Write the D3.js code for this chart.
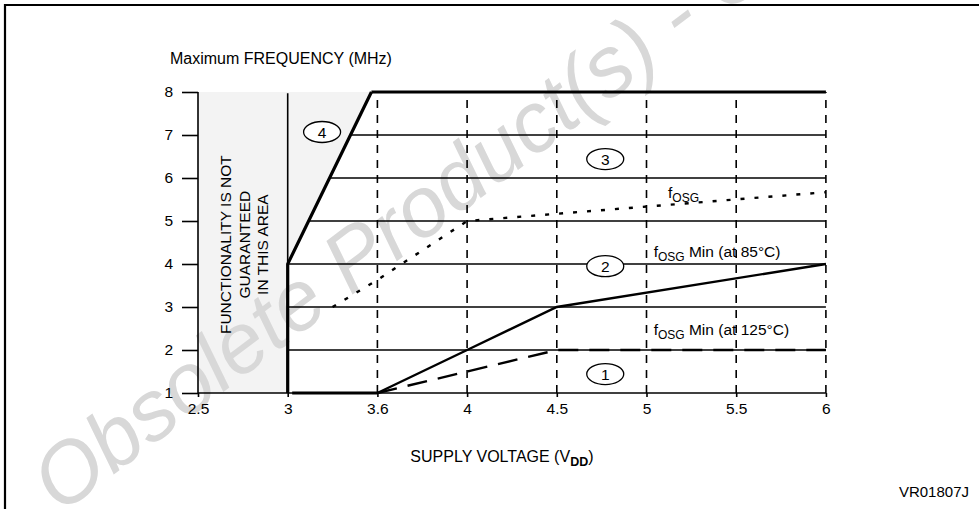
<!DOCTYPE html>
<html>
<head>
<meta charset="utf-8">
<script src="https://cdn.jsdelivr.net/npm/d3@7"></script>
<style>
  html, body { margin: 0; padding: 0; background: #fff; }
  svg { display: block; font-family: "Liberation Sans", Arial, Helvetica, sans-serif; }
</style>
</head>
<body>
<div id="chart"></div>
<script>
// === DATA ===
// supply voltage ticks (the axis is not linear: 3.6 sits half way between 3 and 4)
const voltTicks = [2.5, 3, 3.6, 4, 4.5, 5, 5.5, 6];
const voltBreaks = [2.5, 3, 3.6, 4, 6];
const freqTicks = [1, 2, 3, 4, 5, 6, 7, 8];
const gridFreqs = [2, 3, 4, 5, 6, 7];
const gridVolts = [3.6, 4, 4.5, 5, 5.5, 6];

// limit of the guaranteed area: vertical at 3 V then slope up to 8 MHz
const limitLine = [[3, 1], [3, 4], [3.56, 8]];
const topLine = [[3.56, 8], [6, 8]];
const bottomLine = [[3.03, 1], [3.6, 1]];

const fOsg = [[3.3, 3], [3.6, 3.63], [4, 5], [6, 5.67]];
const fOsgMin85 = [[3.6, 1], [4, 2], [4.5, 3], [6, 4]];
const fOsgMin125 = [[3.6, 1], [4.5, 2], [6, 2]];

const zoneIds = ["1", "2", "3", "4"];
const zoneVolts = [4.77, 4.77, 4.77, 3.23];
const zoneFreqs = [1.44, 3.95, 6.44, 7.07];

const curveLabels = [
    { v: 5.12, f: 5.53, sub: "OSG", rest: "" },
    { v: 5.04, f: 4.16, sub: "OSG", rest: " Min (at 85°C)" },
    { v: 5.04, f: 2.35, sub: "OSG", rest: " Min (at 125°C)" }
];

const areaText = ["FUNCTIONALITY IS NOT", "GUARANTEED", "IN THIS AREA"];

// === LAYOUT ===
const W = 979, H = 509;
const plotLeft = 198, step = 89.7;
const plotTop = 92, plotBottom = 393;
const fs = 15.5;

const svg = d3.select("#chart").append("svg")
    .attr("width", W)
    .attr("height", H);

// piecewise scale so every labelled tick is evenly spaced
const x = d3.scaleLinear()
    .domain(voltBreaks)
    .range([0, 1, 2, 3, 7].map(i => plotLeft + i * step));

const y = d3.scaleLinear()
    .domain([1, 8])
    .range([plotBottom, plotTop]);

const line = d3.line().x(d => x(d[0])).y(d => y(d[1]));

// frame (top and left rule only)
svg.append("path")
    .attr("d", `M5,${H} V5 H${W}`)
    .attr("fill", "none")
    .attr("stroke", "#000")
    .attr("stroke-width", 2.2);

// === SHADED AREA ===
svg.append("path")
    .attr("d", line([[2.5, 1], [2.5, 8], [3.56, 8], [3, 4], [3, 1]]) + "Z")
    .attr("fill", "#f3f3f3");

// watermark
svg.append("text")
    .attr("transform", "translate(60,515) rotate(-37)")
    .attr("font-size", 85)
    .attr("font-style", "italic")
    .attr("fill", "#d8d8d8")
    .text("Obsolete Product(s) - Obsolete Product(s)");

// === GRID ===
function limitVolt(f) {
    if (f <= 4) return 3;
    return 3 + (f - 4) / 4 * 0.56;
}

svg.selectAll(".hgrid")
    .data(gridFreqs)
    .join("line")
    .attr("class", "hgrid")
    .attr("x1", d => x(limitVolt(d)))
    .attr("x2", x(6))
    .attr("y1", d => y(d))
    .attr("y2", d => y(d))
    .attr("stroke", "#000")
    .attr("stroke-width", 1.6);

svg.selectAll(".vgrid")
    .data(gridVolts)
    .join("line")
    .attr("class", "vgrid")
    .attr("x1", d => x(d))
    .attr("x2", d => x(d))
    .attr("y1", y(1))
    .attr("y2", y(8))
    .attr("stroke", "#000")
    .attr("stroke-width", 1.6)
    .attr("stroke-dasharray", "8,7");

// thin vertical at 3 V up to the top
svg.append("line")
    .attr("x1", x(3)).attr("x2", x(3))
    .attr("y1", y(1)).attr("y2", y(7.97))
    .attr("stroke", "#000")
    .attr("stroke-width", 1.6);

// === AXES ===
const yAxis = d3.axisLeft(y)
    .tickValues(freqTicks)
    .tickSize(16)
    .tickPadding(9)
    .tickFormat(d3.format("d"));

const gy = svg.append("g")
    .attr("transform", `translate(${plotLeft},0)`)
    .call(yAxis);

const xAxis = d3.axisBottom(x)
    .tickValues(voltTicks)
    .tickSize(4)
    .tickPadding(6)
    .tickFormat(d => String(d));

const gx = svg.append("g")
    .attr("transform", `translate(0,${plotBottom})`)
    .call(xAxis);

[gx, gy].forEach(g => {
    g.select(".domain").remove();
    g.selectAll(".tick line").attr("stroke", "#000").attr("stroke-width", 1.6);
    g.selectAll("text")
        .attr("font-size", fs)
        .attr("fill", "#000")
        .attr("font-family", "Liberation Sans, Arial, sans-serif");
});

svg.append("line")
    .attr("x1", plotLeft).attr("x2", plotLeft)
    .attr("y1", y(8)).attr("y2", y(1))
    .attr("stroke", "#000").attr("stroke-width", 1.6);

svg.append("line")
    .attr("x1", plotLeft).attr("x2", x(6))
    .attr("y1", y(1)).attr("y2", y(1))
    .attr("stroke", "#000").attr("stroke-width", 1.6);

// === LIMIT LINES ===
[limitLine, topLine, bottomLine].forEach(pts => {
    svg.append("path")
        .attr("d", line(pts))
        .attr("fill", "none")
        .attr("stroke", "#000")
        .attr("stroke-width", 3.2);
});

// === CURVES ===
svg.append("path")
    .attr("d", line(fOsg))
    .attr("fill", "none")
    .attr("stroke", "#000")
    .attr("stroke-width", 2.4)
    .attr("stroke-dasharray", "4,10");

svg.append("path")
    .attr("d", line(fOsgMin85))
    .attr("fill", "none")
    .attr("stroke", "#000")
    .attr("stroke-width", 2.4);

svg.append("path")
    .attr("d", line(fOsgMin125))
    .attr("fill", "none")
    .attr("stroke", "#000")
    .attr("stroke-width", 2.4)
    .attr("stroke-dasharray", "20,11");

// === ZONE MARKERS ===
const zones = svg.selectAll(".zone")
    .data(zoneIds)
    .join("g")
    .attr("class", "zone")
    .attr("transform", (d, i) => `translate(${x(zoneVolts[i])},${y(zoneFreqs[i])})`);

zones.append("ellipse")
    .attr("rx", 18.5)
    .attr("ry", 10.5)
    .attr("fill", "#fff")
    .attr("stroke", "#000")
    .attr("stroke-width", 1.3);

zones.append("text")
    .attr("text-anchor", "middle")
    .attr("dy", "0.36em")
    .attr("font-size", fs)
    .text(d => d);

// === CURVE LABELS ===
curveLabels.forEach(c => {
    const t = svg.append("text")
        .attr("x", x(c.v))
        .attr("y", y(c.f))
        .attr("font-size", fs);
    t.append("tspan").text("f");
    t.append("tspan").attr("font-size", 12).attr("dy", 4).text(c.sub);
    t.append("tspan").attr("dy", -4).text(c.rest);
});

// === AREA NOTE ===
const note = svg.append("text")
    .attr("transform", `translate(${(plotLeft + x(3)) / 2 + 2},${y(4.45)}) rotate(-90)`)
    .attr("text-anchor", "middle")
    .attr("font-size", 15.5);

note.selectAll("tspan")
    .data(areaText)
    .join("tspan")
    .attr("x", 0)
    .attr("y", (d, i) => (i - 1) * 18.5 + 5)
    .text(d => d);

// === TITLES ===
svg.append("text")
    .attr("x", 170)
    .attr("y", 64)
    .attr("font-size", 16)
    .text("Maximum FREQUENCY (MHz)");

const xt = svg.append("text")
    .attr("x", (x(3.6) + x(5)) / 2 - 10)
    .attr("y", 462)
    .attr("text-anchor", "middle")
    .attr("font-size", 16);
xt.append("tspan").text("SUPPLY VOLTAGE (V");
xt.append("tspan").attr("font-size", 12.5).attr("font-weight", "bold").attr("dy", 4).text("DD");
xt.append("tspan").attr("dy", -4).text(")");

svg.append("text")
    .attr("x", 969)
    .attr("y", 497)
    .attr("text-anchor", "end")
    .attr("font-size", 15)
    .text("VR01807J");
</script>
</body>
</html>
